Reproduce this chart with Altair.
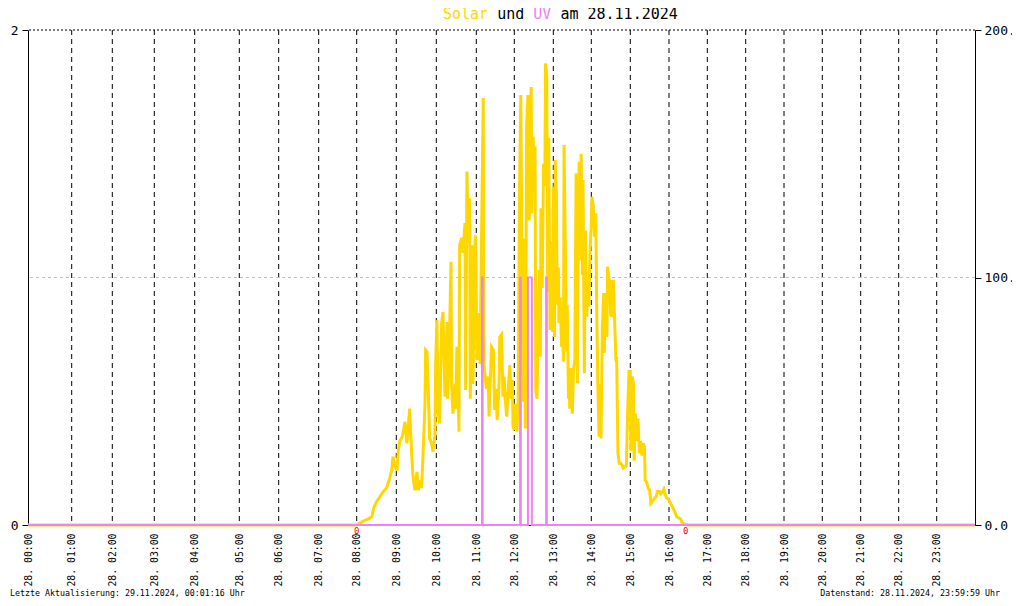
import altair as alt
import pandas as pd

# ---------------- data ----------------
HOURS = list(range(25))
# pixel offsets of the hour gridlines inside the plot (the source axis is slightly irregular)
HOUR_RANGE = [0, 43.7, 84.3, 126.3, 166.7, 211.3, 250.7, 290.7, 328.7, 368.3, 408.3,
              448.3, 486.3, 525.3, 563.3, 602.3, 641, 679.3, 717.7, 756, 794.3,
              832.7, 870.7, 908.7, 947]

# solar radiation (W/m²), time in minutes of the day
SOLAR_MIN = [0, 480, 481, 485, 493, 498, 503, 506, 510, 515, 520, 525, 529, 533, 535, 538,
             541, 543, 545, 549, 553, 556, 558, 560, 563, 565, 568, 571, 573, 575, 578,
             580, 583, 584, 586, 589, 590, 593, 595, 598, 599, 601, 603, 605, 608, 610,
             613, 616, 617, 619, 622, 623, 625, 628, 629, 631, 634, 635, 638, 640, 643,
             644, 646, 648, 650, 651, 654, 655, 658, 659, 661, 663, 666, 668, 671, 672,
             674, 676, 679, 680, 683, 684, 687, 689, 691, 693, 696, 697, 700, 702, 704,
             706, 708, 711, 713, 715, 717, 718,
             720, 722, 724, 726, 728, 730, 732, 734, 735, 737, 739, 741, 743, 744, 746,
             747, 749, 751, 752, 753, 755, 758, 760, 761, 763, 765, 767, 768, 770, 771,
             773, 775, 777, 779, 780, 782, 783, 785, 786, 788, 789, 791, 793, 794, 796,
             797, 799, 801, 802, 804, 805, 806, 808, 810, 812, 814, 816, 818, 820, 821,
             823, 824, 826, 827, 829, 831, 833, 834, 836, 838, 840, 841, 843, 845, 847,
             848, 850, 852, 853, 855, 857, 859, 860, 862, 864, 865, 868,
             870, 871, 873, 874, 876, 878, 879, 881, 883, 885, 888, 889, 892, 894, 896,
             898, 900, 901, 903, 905, 906, 908, 910, 912, 914, 916, 918, 920, 922, 923,
             925, 928, 930, 932, 935, 937, 940, 942, 945, 947, 950, 952, 954, 956, 959,
             961, 964, 966, 969, 972, 974, 978, 981, 985, 989, 1440]
SOLAR_VAL = [0, 0, 0, 0.8, 2, 2.5, 3.4, 7, 9.4, 11.4, 13.5, 14.8, 18, 22, 27.6, 24,
             22, 30, 33.7, 35.7, 41.7, 33, 39.7, 47, 29, 20, 14, 21.5, 14, 18, 15,
             27.6, 48.5, 70.7, 70, 45, 35, 33, 29.6, 36, 65.4, 82.8, 45, 41, 81.5, 86,
             51.8, 82, 51, 64.6, 106.4, 57, 45, 57, 47, 72, 37.7, 113, 116, 110, 122,
             54.5, 142.8, 114, 132, 51, 113, 57, 113, 117, 66.7, 85.6, 65, 110, 172.5, 65,
             60, 55, 60, 43.8, 65, 72, 70.7, 46.5, 55, 42.4, 57, 76, 77, 51.8, 60,
             50, 43.8, 57, 64.6, 51, 58.6, 39.7,
             38.4, 49, 37.7, 49, 134.7, 173.7, 99.8, 49.8, 115.8, 39, 161.6, 173.7, 123, 152, 177,
             126, 157, 136.7, 153, 54.5, 51, 103, 68, 128, 95.8, 146, 137, 186.5, 181, 94,
             156.4, 78.8, 114.5, 78, 136.7, 76, 147.5, 133, 89, 104, 81.6, 92, 72, 86, 66,
             153.5, 112.5, 70, 89, 51, 59.4, 47, 63.4, 45, 63, 66.7, 142, 57.3, 134.7, 146.8,
             107, 150, 101, 139.4, 61.3, 119, 84.2, 100.3, 88.2, 110, 122, 132.6, 129, 116.5, 126,
             93.7, 57.3, 35.7, 57, 35, 78.8, 93.7, 69.5, 93.7, 76, 104.4, 98,
             84.2, 99, 84, 99, 81.5, 66, 68, 29, 25, 25, 24, 23, 23.5, 24, 46.5,
             62, 62, 30, 60, 57, 26, 45, 34, 43, 29, 34, 28, 33, 31.6, 18,
             17.5, 14.8, 14, 8.8, 10, 10.5, 11.4, 13.5, 13.5, 12.5, 13.5, 14.5, 12.5, 11, 10.5,
             9.4, 8, 7, 5.4, 3.4, 3, 2.5, 0.8, 0.3, 0, 0]

# UV index (step curve), time in minutes of the day
UV_MIN = [0, 669, 670, 729, 730, 741, 747, 769, 770, 1440]
UV_VAL = [0, 1, 0, 1, 0, 1, 0, 1, 0, 0]

# sunrise / sunset markers
MARK_MIN = [480, 986]
MARK_TXT = ["0", "0"]

TITLE_PARTS = ["Solar", "und", "UV", "am 28.11.2024"]
TITLE_OFFS = [0, 6, 10, 13]
TITLE_COLORS = ["#ffd700", "#000000", "#ee82ee", "#000000"]

FOOT_LEFT = "Letzte Aktualisierung: 29.11.2024, 00:01:16 Uhr"
FOOT_RIGHT = "Datenstand: 28.11.2024, 23:59:59 Uhr"

MONO = "DejaVu Sans Mono"
W, H = 947, 495

solar_df = pd.DataFrame({"t": SOLAR_MIN, "v": SOLAR_VAL})
uv_df = pd.DataFrame({"t": UV_MIN, "uv": UV_VAL})
grid_df = pd.DataFrame({"t": [h * 60 for h in HOURS[1:24]]})
mark_df = pd.DataFrame({"t": MARK_MIN, "txt": MARK_TXT})

xscale = alt.Scale(domain=[h * 60 for h in HOURS], range=HOUR_RANGE, nice=False, zero=False)
label_expr = "'28. ' + (datum.value < 600 ? '0' : '') + floor(datum.value / 60) + ':00'"
xaxis = alt.Axis(values=[h * 60 for h in HOURS[:24]], labelExpr=label_expr, labelAngle=270,
                 labelFont=MONO, labelFontSize=9.8, labelColor="black", ticks=False,
                 labelPadding=8, domainColor="black", grid=False, title=None,
                 labelOverlap=False, labelBound=False, labelFlush=False)
X = alt.X("t:Q", scale=xscale, axis=xaxis)

solar_scale = alt.Scale(domain=[0, 200], nice=False, zero=True)

vgrid = alt.Chart(grid_df).mark_rule(color="black", strokeWidth=1, strokeDash=[5, 4]).encode(x=X)

h100 = alt.Chart(pd.DataFrame({"y": [100]})).mark_rule(
    color="#c0c0c0", strokeWidth=1, strokeDash=[3, 3]
).encode(y=alt.Y("y:Q", scale=solar_scale, axis=None))
h200 = alt.Chart(pd.DataFrame({"y": [200]})).mark_rule(
    color="black", strokeWidth=1, strokeDash=[2, 2]
).encode(y=alt.Y("y:Q", scale=solar_scale, axis=None))

solar = alt.Chart(solar_df).mark_line(color="#ffd700", strokeWidth=3, strokeJoin="miter").encode(
    x=X,
    y=alt.Y("v:Q", scale=solar_scale,
            axis=alt.Axis(orient="right", values=[0, 100, 200], format=".1f", title=None,
                          grid=False, tickSize=6, labelPadding=3, labelFont=MONO,
                          labelFontSize=13, labelColor="black", domainColor="black",
                          tickColor="black", labelFlush=False)),
)

uv = alt.Chart(uv_df).mark_line(color="#ee82ee", strokeWidth=2, interpolate="step-after").encode(
    x=X,
    y=alt.Y("uv:Q", scale=alt.Scale(domain=[0, 2], nice=False),
            axis=alt.Axis(orient="left", values=[0, 2], format="d", title=None,
                          grid=False, tickSize=6, labelPadding=4, labelFont=MONO,
                          labelFontSize=13, labelColor="black", domainColor="black",
                          tickColor="black", labelFlush=False)),
)

marks = alt.Chart(mark_df).mark_text(color="red", font=MONO, fontSize=9, baseline="middle").encode(
    x=X, y=alt.value(H + 6), text="txt:N"
)

title_layers = []
for part, off, col in zip(TITLE_PARTS, TITLE_OFFS, TITLE_COLORS):
    title_layers.append(
        alt.Chart(pd.DataFrame({"s": [part]})).mark_text(
            font=MONO, fontSize=15, color=col, align="left", baseline="middle"
        ).encode(x=alt.value(415 + off * 9.03), y=alt.value(-16), text="s:N")
    )

foot_l = alt.Chart(pd.DataFrame({"s": [FOOT_LEFT]})).mark_text(
    font=MONO, fontSize=8.3, color="black", align="left", baseline="middle"
).encode(x=alt.value(-18), y=alt.value(H + 69), text="s:N")
foot_r = alt.Chart(pd.DataFrame({"s": [FOOT_RIGHT]})).mark_text(
    font=MONO, fontSize=8.3, color="black", align="right", baseline="middle"
).encode(x=alt.value(972), y=alt.value(H + 69), text="s:N")

chart = alt.layer(
    vgrid, h100, h200, solar, uv, marks, *title_layers, foot_l, foot_r
).resolve_scale(y="independent").properties(
    width=W, height=H,
    autosize=alt.AutoSizeParams(type="none"),
    padding={"left": 20, "top": 22, "right": 37, "bottom": 75},
    background="white",
).configure_view(stroke=None)

chart.save("out.html", embed_options={"renderer": "svg", "actions": False})
